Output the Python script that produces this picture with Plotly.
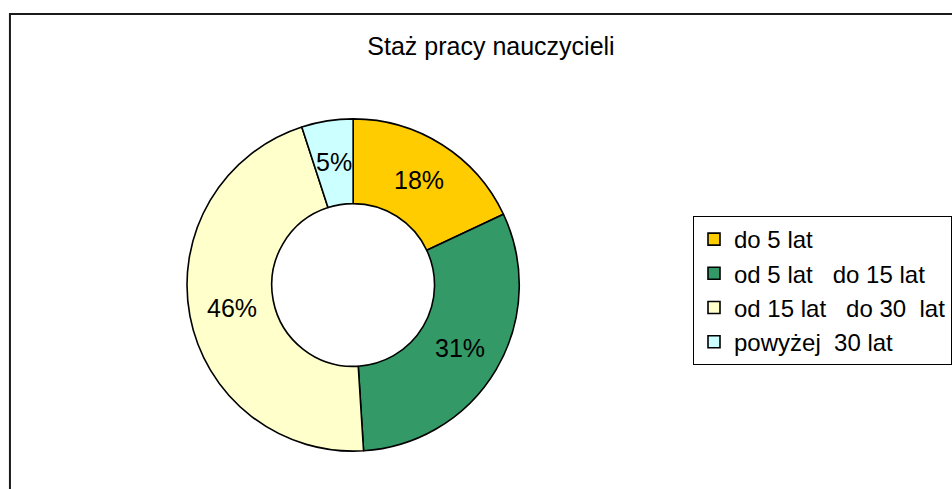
import math
import plotly.graph_objects as go

W, H = 952, 489
OFF = 0  # body margin removed below

labels = ["do 5 lat",
          "od 5 lat\u00a0\u00a0 do 15 lat",
          "od 15 lat\u00a0\u00a0 do 30\u00a0 lat",
          "powyżej\u00a0 30 lat"]
values = [18, 31, 46, 5]
colors = ["#FFCC00", "#339966", "#FFFFCC", "#CCFFFF"]
title_text = "Staż pracy nauczycieli"

FONT = "Liberation Sans, Arial, sans-serif"
HOLE = 0.49


def px_x(p):
    return (p - OFF) / W


def px_y(p):
    return 1 - (p - OFF) / H


# pie placement (pixels in the final screenshot)
CX, CY, R = 355, 285, 167
dom_x = [px_x(CX - R), px_x(CX + R)]
dom_y = [px_y(CY + R), px_y(CY - R)]

fig = go.Figure(go.Pie(
    labels=labels,
    values=values,
    hole=HOLE,
    sort=False,
    direction="clockwise",
    rotation=0,
    marker=dict(colors=colors, line=dict(color="#000000", width=1.6)),
    textinfo="none",
    domain=dict(x=dom_x, y=dom_y),
))

# percentage labels at the middle of the ring, derived from the values
total = sum(values)
annotations = []
cum = 0
rmid = R * (1 + HOLE) / 2
for v in values:
    mid = (cum + v / 2) / total * 2 * math.pi
    cum += v
    x = CX + rmid * math.sin(mid)
    y = CY - rmid * math.cos(mid)
    annotations.append(dict(
        x=px_x(x), y=px_y(y), xref="paper", yref="paper",
        text=f"{round(100 * v / total)}%", showarrow=False,
        xanchor="center", yanchor="middle",
        font=dict(family=FONT, size=25, color="#000000")))

fig.update_layout(
    width=W, height=H,
    margin=dict(l=0, r=0, t=0, b=0),
    paper_bgcolor="#FFFFFF",
    plot_bgcolor="#FFFFFF",
    title=dict(text=title_text, x=px_x(491), xanchor="center",
               y=px_y(46), yanchor="middle",
               font=dict(family=FONT, size=25, color="#000000")),
    legend=dict(x=px_x(697), xanchor="left", y=px_y(216), yanchor="top",
                bordercolor="#000000", borderwidth=1,
                bgcolor="#FFFFFF",
                font=dict(family=FONT, size=24, color="#000000"),
                traceorder="normal"),
    annotations=annotations,
    shapes=[dict(type="rect", xref="paper", yref="paper",
                 x0=px_x(10), x1=1.2, y0=-0.2, y1=px_y(14),
                 line=dict(color="#1a1a1a", width=2), layer="below")],
)

fig.write_html(
    "out.html",
    config={"displayModeBar": False},
    post_script="document.body.style.margin='0';document.body.style.overflow='hidden';",
)
